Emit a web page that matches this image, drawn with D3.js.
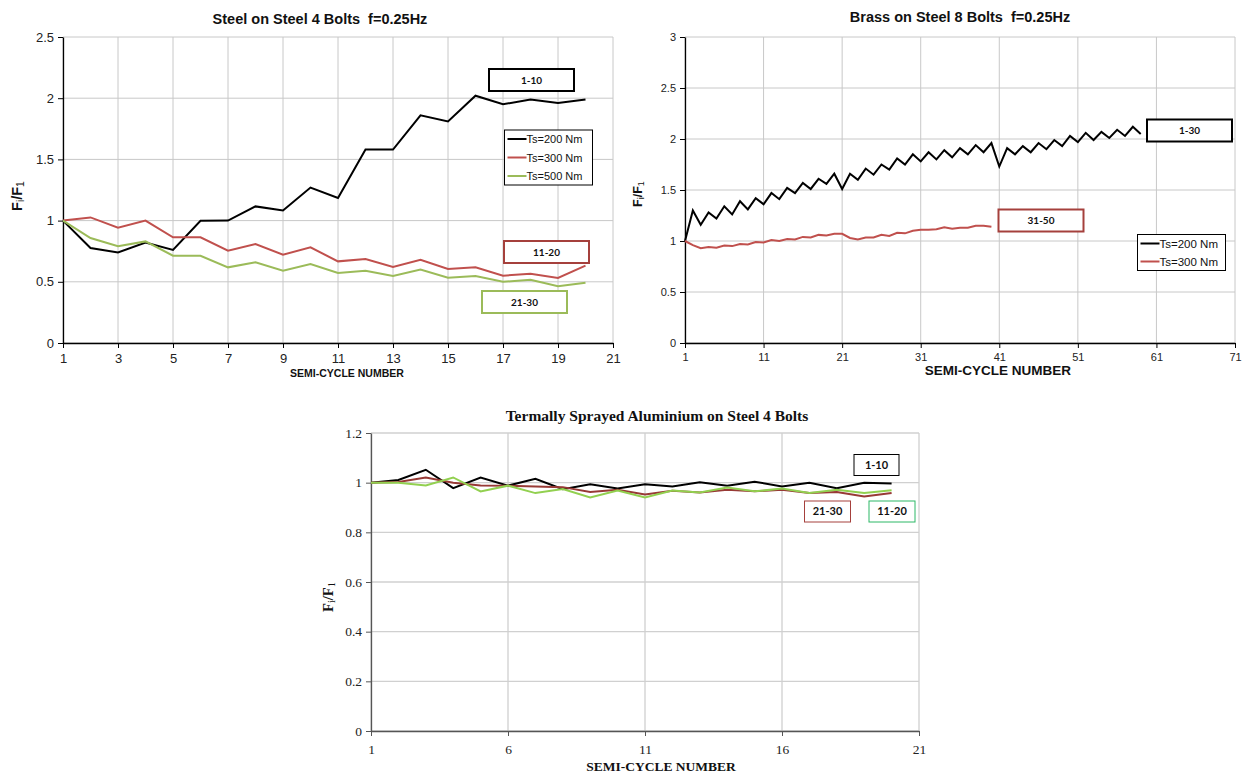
<!DOCTYPE html>
<html><head><meta charset="utf-8">
<script src="https://cdn.jsdelivr.net/npm/d3@7"></script>
<style>body{margin:0;background:#fff}svg{display:block}text{white-space:pre}</style>
</head><body>
<svg id="c" width="1245" height="774"></svg>
<script>
// ---------- DATA ----------
// Chart 1: Steel on Steel 4 Bolts
const steelCycles = d3.range(1, 21);
const steelTs200 = [1.0,0.776,0.74,0.82,0.76,0.999,1.0,1.116,1.083,1.27,1.185,1.58,1.58,1.86,1.81,2.02,1.95,1.99,1.96,1.99];
const steelTs300 = [1.0,1.026,0.942,1.0,0.863,0.863,0.754,0.809,0.721,0.781,0.667,0.686,0.621,0.68,0.604,0.618,0.55,0.566,0.531,0.632];
const steelTs500 = [1.0,0.858,0.79,0.83,0.713,0.713,0.618,0.659,0.591,0.645,0.572,0.591,0.547,0.60,0.534,0.547,0.50,0.517,0.463,0.493];
const steelXTicks = [1,3,5,7,9,11,13,15,17,19,21];
const steelYTicks = [0,0.5,1,1.5,2,2.5];

// Chart 2: Brass on Steel 8 Bolts
const brassTs200 = [1.0,1.30,1.16,1.28,1.22,1.34,1.26,1.39,1.31,1.42,1.36,1.47,1.41,1.52,1.47,1.57,1.51,1.61,1.56,1.66,
  1.51,1.66,1.60,1.71,1.65,1.75,1.70,1.81,1.75,1.85,1.78,1.87,1.80,1.89,1.82,1.91,1.85,1.94,1.87,1.96,
  1.73,1.91,1.85,1.93,1.87,1.96,1.90,1.99,1.93,2.03,1.97,2.06,1.99,2.07,2.01,2.09,2.03,2.12,2.05];
const brassTs300 = [1.0,0.96,0.93,0.94,0.935,0.955,0.95,0.97,0.965,0.99,0.985,1.01,1.0,1.02,1.015,1.04,1.035,1.06,1.055,1.07,
  1.07,1.03,1.015,1.035,1.035,1.06,1.05,1.08,1.075,1.10,1.11,1.11,1.115,1.135,1.12,1.13,1.13,1.15,1.15,1.14];
const brassXTicks = [1,11,21,31,41,51,61,71];
const brassYTicks = [0,0.5,1,1.5,2,2.5,3];

// Chart 3: Thermally sprayed aluminium on steel 4 bolts
const aluCycles = d3.range(1, 21);
const alu1to10 = [1.0,1.011,1.052,0.978,1.021,0.988,1.016,0.974,0.994,0.977,0.994,0.985,1.002,0.988,1.004,0.985,1.0,0.978,1.0,0.997];
const alu21to30 = [1.0,1.003,1.021,1.0,0.989,0.988,0.985,0.982,0.962,0.971,0.952,0.967,0.96,0.971,0.965,0.971,0.958,0.962,0.944,0.958];
const alu11to20 = [1.0,1.0,0.989,1.021,0.965,0.988,0.958,0.974,0.940,0.968,0.940,0.968,0.96,0.98,0.965,0.976,0.958,0.971,0.958,0.969];
const aluXTicks = [1,6,11,16,21];
const aluYTicks = [0,0.2,0.4,0.6,0.8,1,1.2];

const svg = d3.select("#c");
const SANS = "'Liberation Sans', Arial, sans-serif";
const SERIF = "'Liberation Serif', 'Times New Roman', serif";
const BOXF = "Lato, 'Liberation Sans', sans-serif";

function drawChart(cfg) {
  const g = svg.append("g");
  const x = d3.scaleLinear().domain(cfg.xDomain).range([cfg.left, cfg.right]);
  const y = d3.scaleLinear().domain(cfg.yDomain).range([cfg.bottom, cfg.top]);
  // grid
  g.append("g").selectAll("line").data(cfg.yTicks).join("line")
    .attr("x1", cfg.left).attr("x2", cfg.right)
    .attr("y1", d => y(d)).attr("y2", d => y(d))
    .attr("stroke", cfg.gridColor).attr("stroke-width", cfg.gridWidth);
  g.append("g").selectAll("line").data(cfg.xTicks).join("line")
    .attr("x1", d => x(d)).attr("x2", d => x(d))
    .attr("y1", cfg.top).attr("y2", cfg.bottom)
    .attr("stroke", cfg.gridColor).attr("stroke-width", cfg.gridWidth);
  // axes
  const ax = g.append("g").attr("transform", `translate(0,${cfg.bottom})`)
    .call(d3.axisBottom(x).tickValues(cfg.xTicks).tickSize(5).tickSizeOuter(0).tickFormat(d3.format("d")));
  const ay = g.append("g").attr("transform", `translate(${cfg.left},0)`)
    .call(d3.axisLeft(y).tickValues(cfg.yTicks).tickSize(5).tickSizeOuter(0).tickFormat(d => String(d)));
  [ax, ay].forEach(a => {
    a.select(".domain").attr("stroke", cfg.axisColor).attr("stroke-width", 1.3);
    a.selectAll(".tick line").attr("stroke", cfg.axisColor);
    a.selectAll(".tick text").attr("font-family", cfg.font).attr("font-size", cfg.tickSize).attr("fill", "#222");
  });
  ax.selectAll(".tick text").attr("dy", cfg.xTickDy || "0.9em");
  ay.selectAll(".tick text").attr("dx", "-1px");
  // lines
  const line = d3.line().x(d => x(d[0])).y(d => y(d[1]));
  cfg.series.forEach(s => {
    g.append("path").datum(s.values.map((v, i) => [s.start + i, v]))
      .attr("d", line).attr("fill", "none").attr("stroke", s.color).attr("stroke-width", 2)
      .attr("stroke-linejoin", "miter");
  });
  // title
  g.append("text").attr("x", cfg.titleX).attr("y", cfg.titleY).attr("text-anchor", "middle")
    .attr("font-family", cfg.font).attr("font-weight", "bold").attr("font-size", cfg.titleSize)
    .attr("fill", "#111").text(cfg.title);
  g.append("text").attr("x", cfg.xTitleX).attr("y", cfg.xTitleY).attr("text-anchor", "middle")
    .attr("font-family", cfg.font).attr("font-weight", "bold").attr("font-size", cfg.xTitleSize)
    .attr("fill", "#111").text("SEMI-CYCLE NUMBER");
  const yt = g.append("text").attr("transform", `translate(${cfg.yTitleX},${cfg.yTitleY}) rotate(-90)`)
    .attr("text-anchor", "middle").attr("font-family", cfg.font).attr("font-weight", "bold")
    .attr("font-size", cfg.yTitleSize).attr("fill", "#111");
  yt.append("tspan").text("F");
  yt.append("tspan").attr("font-size", cfg.yTitleSize * 0.72).attr("dy", 2).attr("font-weight", "normal").text("i");
  yt.append("tspan").attr("dy", -2).text("/F");
  yt.append("tspan").attr("font-size", cfg.yTitleSize * 0.72).attr("dy", 2).attr("font-weight", "normal").text("1");
  // boxes
  cfg.boxes.forEach(b => {
    g.append("rect").attr("x", b.x).attr("y", b.y).attr("width", b.w).attr("height", b.h)
      .attr("fill", "#fff").attr("stroke", b.color).attr("stroke-width", b.sw);
    g.append("text").attr("x", b.x + b.w / 2).attr("y", b.y + b.h / 2 + 3.5).attr("text-anchor", "middle")
      .attr("font-family", BOXF).attr("font-weight", "bold").attr("font-size", b.fs || 10).attr("fill", "#111").text(b.label);
  });
  // legend
  if (cfg.legend) {
    const L = cfg.legend;
    g.append("rect").attr("x", L.x).attr("y", L.y).attr("width", L.w).attr("height", L.h)
      .attr("fill", "#fff").attr("stroke", "#000").attr("stroke-width", 1);
    cfg.series.forEach((s, i) => {
      const yy = L.y + L.first + i * L.step;
      g.append("line").attr("x1", L.x + 3).attr("x2", L.x + 22).attr("y1", yy).attr("y2", yy)
        .attr("stroke", s.color).attr("stroke-width", 2);
      g.append("text").attr("x", L.x + 22).attr("y", yy + 4).attr("font-family", SANS)
        .attr("font-size", L.fs).attr("fill", "#111").text(s.name);
    });
  }
}

drawChart({
  xDomain: [1, 21], yDomain: [0, 2.5], left: 63, right: 613, top: 37, bottom: 343,
  xTicks: steelXTicks, yTicks: steelYTicks, gridColor: "#c8c8c8", gridWidth: 1, axisColor: "#000",
  font: SANS, tickSize: 13,
  title: "Steel on Steel 4 Bolts  f=0.25Hz", titleX: 320, titleY: 24, titleSize: 14.5,
  xTitleX: 347, xTitleY: 377, xTitleSize: 10.5, yTitleX: 22, yTitleY: 196, yTitleSize: 14.5,
  series: [
    {name: "Ts=200 Nm", values: steelTs200, start: 1, color: "#000"},
    {name: "Ts=300 Nm", values: steelTs300, start: 1, color: "#c0504d"},
    {name: "Ts=500 Nm", values: steelTs500, start: 1, color: "#9bbb59"}
  ],
  boxes: [
    {label: "1-10", x: 489, y: 69, w: 85, h: 22, color: "#000", sw: 2},
    {label: "11-20", x: 504, y: 241, w: 85, h: 22, color: "#a5403c", sw: 2},
    {label: "21-30", x: 482, y: 291, w: 85, h: 22, color: "#9bbb59", sw: 2}
  ],
  legend: {x: 504.5, y: 130, w: 88, h: 55, first: 9, step: 18.5, fs: 11}
});

drawChart({
  xDomain: [1, 71], yDomain: [0, 3], left: 685, right: 1235, top: 37, bottom: 343,
  xTicks: brassXTicks, yTicks: brassYTicks, gridColor: "#c8c8c8", gridWidth: 1, axisColor: "#000",
  font: SANS, tickSize: 11,
  title: "Brass on Steel 8 Bolts  f=0.25Hz", titleX: 960, titleY: 22, titleSize: 14.5,
  xTitleX: 998, xTitleY: 375, xTitleSize: 13.5, yTitleX: 642, yTitleY: 194, yTitleSize: 12.5,
  series: [
    {name: "Ts=200 Nm", values: brassTs200, start: 1, color: "#000"},
    {name: "Ts=300 Nm", values: brassTs300, start: 1, color: "#c0504d"}
  ],
  boxes: [
    {label: "1-30", x: 1147, y: 119.5, w: 85, h: 22, color: "#000", sw: 2},
    {label: "31-50", x: 998.5, y: 209.5, w: 85, h: 22, color: "#a5403c", sw: 2}
  ],
  legend: {x: 1137.5, y: 234.5, w: 88, h: 36, first: 9, step: 18, fs: 11.5}
});

drawChart({
  xDomain: [1, 21], yDomain: [0, 1.2], left: 371, right: 919, top: 433, bottom: 731,
  xTicks: aluXTicks, yTicks: aluYTicks, gridColor: "#d0d0d0", gridWidth: 1.3, axisColor: "#555",
  font: SERIF, tickSize: 13.5, xTickDy: "1.1em",
  title: "Termally Sprayed Aluminium on Steel 4 Bolts", titleX: 657, titleY: 421, titleSize: 15.5,
  xTitleX: 661, xTitleY: 771, xTitleSize: 13.5, yTitleX: 333, yTitleY: 597, yTitleSize: 14.5,
  series: [
    {name: "1-10", values: alu1to10, start: 1, color: "#000"},
    {name: "21-30", values: alu21to30, start: 1, color: "#983a36"},
    {name: "11-20", values: alu11to20, start: 1, color: "#92d050"}
  ],
  boxes: [
    {label: "1-10", x: 854, y: 454.5, w: 45, h: 21, color: "#000", sw: 1, fs: 11},
    {label: "21-30", x: 804.5, y: 501, w: 46, h: 21, color: "#a5403c", sw: 1, fs: 11},
    {label: "11-20", x: 869, y: 501, w: 46, h: 21, color: "#2cb866", sw: 1, fs: 11}
  ]
});
</script>
</body></html>
